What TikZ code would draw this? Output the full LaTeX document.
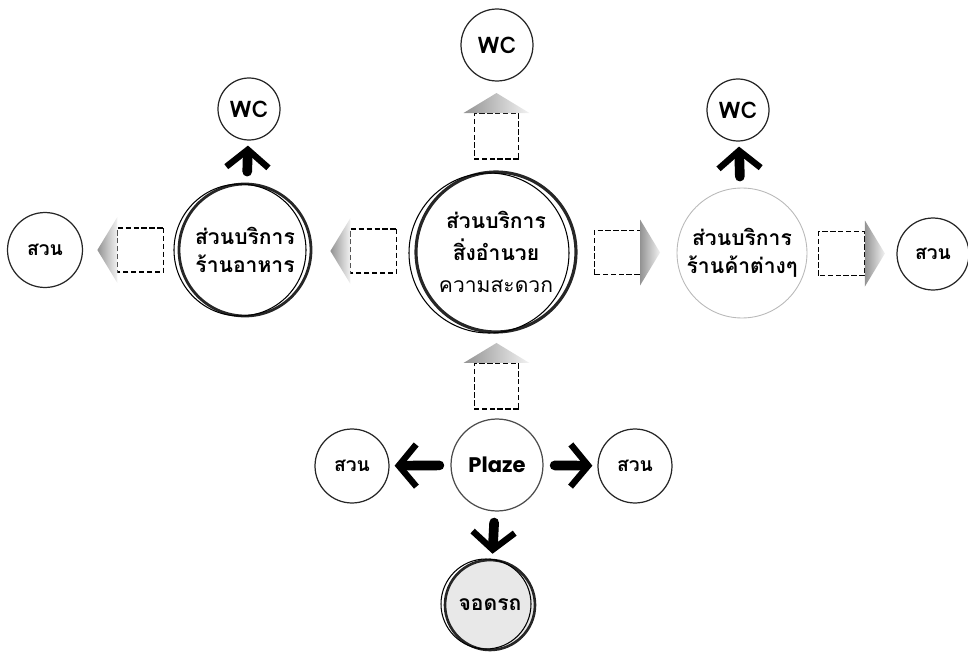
\documentclass[tikz,border=0pt]{standalone}
\usepackage{fontspec}
\usepackage{tikz}
\usetikzlibrary{arrows.meta,calc}
\newfontfamily\thaifont[Script=Thai]{Loma}
\newfontfamily\latinfont{Poppins}

\tikzset{
  place/.style={circle, draw=black!85, line width=0.7pt, inner sep=0pt, align=center,
    font=\thaifont\bfseries\fontsize{12}{16}\selectfont},
  hub/.style={place, line width=1.8pt, minimum size=3.2cm, font=\thaifont\bfseries\fontsize{12}{18}\selectfont},
  food/.style={place, line width=1.6pt, minimum size=2.64cm},
  shop/.style={place, draw=gray!55, line width=0.5pt, minimum size=2.6cm},
  wc/.style={place, minimum size=1.24cm, font=\thaifont\bfseries\fontsize{13}{15}\selectfont},
  garden/.style={place, minimum size=1.5cm, font=\thaifont\bfseries\fontsize{11}{13}\selectfont},
  plaza/.style={place, draw=black!70, minimum size=1.84cm, font=\latinfont\bfseries\fontsize{12}{15}\selectfont},
  carpark/.style={place, line width=1.5pt, fill=gray!18, minimum size=1.8cm},
  fatarrow/.style={line width=5.5pt, line cap=round,
    -{Straight Barb[length=10pt, width=24pt, line width=3.6pt]},
    shorten <=0.22cm, shorten >=0.1cm},
  pics/blockarrow/.style={code={
    \draw[dash pattern=on 3pt off 1.5pt, line width=0.6pt, fill=white] (-33,-22) rectangle (13,22);
    \shade[top color=gray!85, bottom color=gray!10, shading angle=90] (13,-33) -- (33,0) -- (13,33) -- cycle;
  }}
}

\begin{document}
\begin{tikzpicture}[x=0.02cm, y=0.02cm]
  \useasboundingbox (0,0) rectangle (968,-659);

  \node[hub] (hub) at (496,-252) {ส่วนบริการ\\สิ่งอำนวย\\{\mdseries ความสะดวก}};
  \node[wc, minimum size=1.44cm] (wcTop) at (497,-45) {WC};
  \node[food] (food) at (245,-250) {ส่วนบริการ\\ร้านอาหาร};
  \node[wc] (wcFood) at (249,-109) {WC};
  \node[garden] (gardenL) at (45,-250) {สวน};
  \node[shop] (shop) at (742,-253) {ส่วนบริการ\\ร้านค้าต่างๆ};
  \node[wc] (wcShop) at (738,-110) {WC};
  \node[garden, minimum size=1.44cm] (gardenR) at (933,-254) {สวน};
  \node[plaza] (plaza) at (497,-465) {Plaze};
  \node[garden, minimum size=1.48cm] (gardenBL) at (352,-466) {สวน};
  \node[garden, minimum size=1.48cm] (gardenBR) at (635,-466) {สวน};
  \node[carpark] (carPark) at (490,-605) {จอดรถ};

  % second, slightly offset rings
  \draw[line width=0.6pt] ($(hub)+(-7,-1)$) circle (80);
  \draw[line width=0.6pt] ($(food)+(-5,0)$) circle (66);
  \draw[line width=0.6pt] ($(carPark)+(-4,1)$) circle (45);

  \pic[rotate=90]  at ($(hub.north)!0.5!(wcTop.south)$)   {blockarrow};
  \pic[rotate=180] at ($(hub.west)!0.5!(food.east)$)      {blockarrow};
  \pic[rotate=180] at ($(food.west)!0.5!(gardenL.east)$)  {blockarrow};
  \pic             at ($(hub.east)!0.5!(shop.west)$)      {blockarrow};
  \pic             at ($(shop.east)!0.5!(gardenR.west)$)  {blockarrow};
  \pic[rotate=90]  at ($(plaza.north)!0.5!(hub.south)$)   {blockarrow};

  \draw[fatarrow] (food)  -- (wcFood);
  \draw[fatarrow] (shop)  -- (wcShop);
  \draw[fatarrow] (plaza) -- (gardenBL);
  \draw[fatarrow] (plaza) -- (gardenBR);
  \draw[fatarrow] (plaza) -- (carPark);
\end{tikzpicture}
\end{document}
